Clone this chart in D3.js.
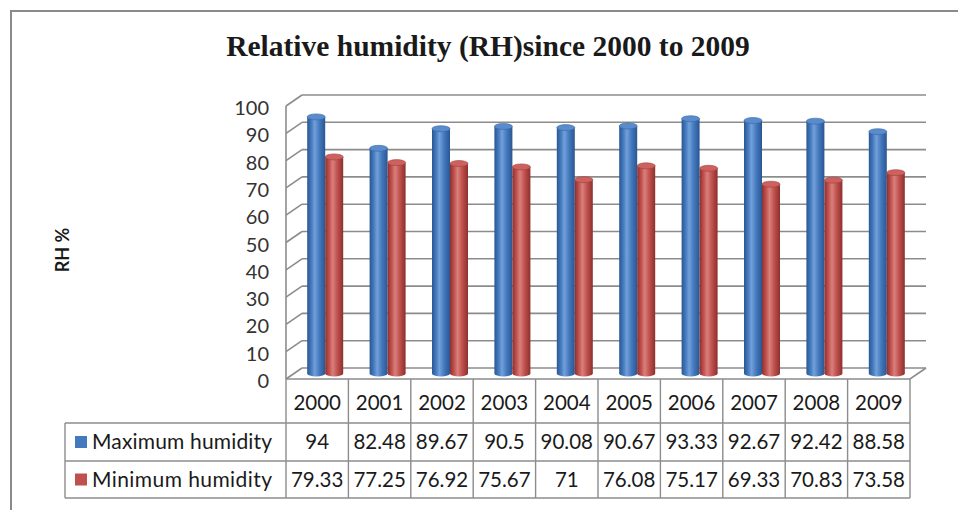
<!DOCTYPE html>
<html>
<head>
<meta charset="utf-8">
<script src="https://cdn.jsdelivr.net/npm/d3@7"></script>
<style>
  html, body { margin: 0; padding: 0; background: #fff; }
  svg { display: block; }
</style>
</head>
<body>
<svg id="chart" width="958" height="510"></svg>
<script>
// Yearly relative humidity, 2000–2009
const years = ["2000", "2001", "2002", "2003", "2004", "2005", "2006", "2007", "2008", "2009"];
const maxHumidity = [94, 82.48, 89.67, 90.5, 90.08, 90.67, 93.33, 92.67, 92.42, 88.58];
const minHumidity = [79.33, 77.25, 76.92, 75.67, 71, 76.08, 75.17, 69.33, 70.83, 73.58];
const maxLabels = ["94", "82.48", "89.67", "90.5", "90.08", "90.67", "93.33", "92.67", "92.42", "88.58"];
const minLabels = ["79.33", "77.25", "76.92", "75.67", "71", "76.08", "75.17", "69.33", "70.83", "73.58"];
const seriesNames = ["Maximum humidity", "Minimum humidity"];
const yTicks = [0, 10, 20, 30, 40, 50, 60, 70, 80, 90, 100];

const svg = d3.select("#chart");
const ink = "#1a1a1a";
const gridColor = "#8c8c8c";
const font = "Lato, 'Open Sans', sans-serif";

// Layout of the 3-D box: front face and depth offset
const left = 286, right = 910;
const depthX = 16, depthY = -11;
const x = d3.scaleBand().domain(years).range([left, right]).paddingInner(0).paddingOuter(0);
const yFront = d3.scaleLinear().domain([0, 100]).range([379, 106]);
const yBack = d3.scaleLinear().domain([0, 100]).range([379 + depthY, 106 + depthY]);
const yMid = d3.scaleLinear().domain([0, 100]).range([379 + depthY / 2, 106 + depthY / 2]);
const series = d3.scaleBand().domain([0, 1]).range([0, 36]);

// Outer frame (top and left edges)
svg.append("path")
  .attr("d", "M11,510 L11,11 L958,11")
  .attr("fill", "none").attr("stroke", "#8a8a8a").attr("stroke-width", 2);

// Title
svg.append("text")
  .attr("x", 488).attr("y", 56)
  .attr("text-anchor", "middle")
  .attr("font-family", "'Liberation Serif', 'DejaVu Serif', serif")
  .attr("font-weight", "bold").attr("font-size", 29.5)
  .attr("fill", ink)
  .text("Relative humidity (RH)since 2000 to 2009");

// Y axis title
svg.append("text")
  .attr("transform", "translate(69,250) rotate(-90)")
  .attr("text-anchor", "middle")
  .attr("font-family", font).attr("font-weight", "bold").attr("font-size", 18)
  .attr("fill", ink)
  .text("RH %");

// Back-wall gridlines and side-wall diagonals
const grid = svg.append("g").attr("stroke", gridColor).attr("stroke-width", 1.6).attr("fill", "none");
grid.selectAll("line.back").data(yTicks).join("line")
  .attr("x1", left + depthX).attr("x2", right + depthX)
  .attr("y1", d => yBack(d)).attr("y2", d => yBack(d));
grid.selectAll("line.side").data(yTicks).join("line")
  .attr("x1", left).attr("x2", left + depthX)
  .attr("y1", d => yFront(d)).attr("y2", d => yBack(d));
// Left wall front edge
grid.append("line")
  .attr("x1", left).attr("x2", left)
  .attr("y1", yFront(0)).attr("y2", yFront(100));
// Floor outline: front edge and right side
grid.append("path")
  .attr("d", `M${left},${yFront(0)} L${right},${yFront(0)} L${right + depthX},${yBack(0)}`);

// Y tick labels
svg.append("g").selectAll("text").data(yTicks).join("text")
  .attr("x", 269).attr("y", d => yFront(d) + 2)
  .attr("dy", "0.35em")
  .attr("text-anchor", "end")
  .attr("font-family", font).attr("font-size", 20)
  .attr("fill", "#333")
  .text(d => d);

// Cylinder shading
const palettes = [
  { id: "gBlue", dark: "#2a5692", base: "#4379bd", light: "#72a0da", cap: "#5a8ccd", capEdge: "#3766a5" },
  { id: "gRed", dark: "#8c302d", base: "#c0504d", light: "#d9807c", cap: "#cc615d", capEdge: "#a23f3c" }
];
const defs = svg.append("defs");
palettes.forEach(p => {
  const g = defs.append("linearGradient").attr("id", p.id)
    .attr("x1", "0%").attr("x2", "100%").attr("y1", "0%").attr("y2", "0%");
  g.append("stop").attr("offset", "0%").attr("stop-color", p.dark);
  g.append("stop").attr("offset", "22%").attr("stop-color", p.base);
  g.append("stop").attr("offset", "42%").attr("stop-color", p.light);
  g.append("stop").attr("offset", "68%").attr("stop-color", p.base);
  g.append("stop").attr("offset", "100%").attr("stop-color", p.dark);
});

const barData = [];
years.forEach((yr, i) => {
  barData.push({ year: yr, s: 0, v: maxHumidity[i] });
  barData.push({ year: yr, s: 1, v: minHumidity[i] });
});
const bw = series.bandwidth();
const ry = 3;
const bars = svg.append("g").selectAll("g").data(barData).join("g")
  .attr("transform", d => {
    const cx = x(d.year) + x.bandwidth() / 2 + depthX / 2 - 18 + series(d.s);
    return `translate(${cx},0)`;
  });
// bottom ellipse
bars.append("ellipse")
  .attr("cx", bw / 2).attr("cy", yMid(0))
  .attr("rx", bw / 2).attr("ry", ry)
  .attr("fill", d => `url(#${palettes[d.s].id})`);
// body
bars.append("rect")
  .attr("x", 0).attr("width", bw)
  .attr("y", d => yMid(d.v)).attr("height", d => yMid(0) - yMid(d.v))
  .attr("fill", d => `url(#${palettes[d.s].id})`);
// top cap
bars.append("ellipse")
  .attr("cx", bw / 2).attr("cy", d => yMid(d.v))
  .attr("rx", bw / 2).attr("ry", ry)
  .attr("fill", d => palettes[d.s].cap)
  .attr("stroke", d => palettes[d.s].capEdge).attr("stroke-width", 0.6);

// Data table
const rowTop = yFront(0), row1 = 423, row2 = 461, row3 = 498, legendLeft = 65;
const table = svg.append("g").attr("stroke", gridColor).attr("stroke-width", 1.4).attr("fill", "none");
table.selectAll("line.col").data(years.concat(["end"])).join("line")
  .attr("x1", d => d === "end" ? right : x(d)).attr("x2", d => d === "end" ? right : x(d))
  .attr("y1", rowTop).attr("y2", row3);
table.selectAll("line.row").data([row1, row2, row3]).join("line")
  .attr("x1", legendLeft).attr("x2", right)
  .attr("y1", d => d).attr("y2", d => d);
table.append("line")
  .attr("x1", legendLeft).attr("x2", legendLeft)
  .attr("y1", row1).attr("y2", row3);

const cellText = (values, yPos) => svg.append("g").selectAll("text").data(values).join("text")
  .attr("x", (d, i) => x(years[i]) + x.bandwidth() / 2)
  .attr("y", yPos).attr("dy", "0.35em")
  .attr("text-anchor", "middle")
  .attr("font-family", font).attr("font-size", 20.5)
  .attr("fill", ink)
  .text(d => d);
cellText(years, (rowTop + row1) / 2 + 2);
cellText(maxLabels, (row1 + row2) / 2);
cellText(minLabels, (row2 + row3) / 2);

// Legend keys in the table
const legendRows = [(row1 + row2) / 2, (row2 + row3) / 2];
seriesNames.forEach((name, i) => {
  svg.append("rect")
    .attr("x", 75).attr("y", legendRows[i] - 6)
    .attr("width", 12).attr("height", 12)
    .attr("fill", palettes[i].base);
  svg.append("text")
    .attr("x", 92).attr("y", legendRows[i]).attr("dy", "0.35em")
    .attr("font-family", font).attr("font-size", 21)
    .attr("textLength", 180).attr("lengthAdjust", "spacing")
    .attr("fill", ink)
    .text(name);
});
</script>
</body>
</html>
